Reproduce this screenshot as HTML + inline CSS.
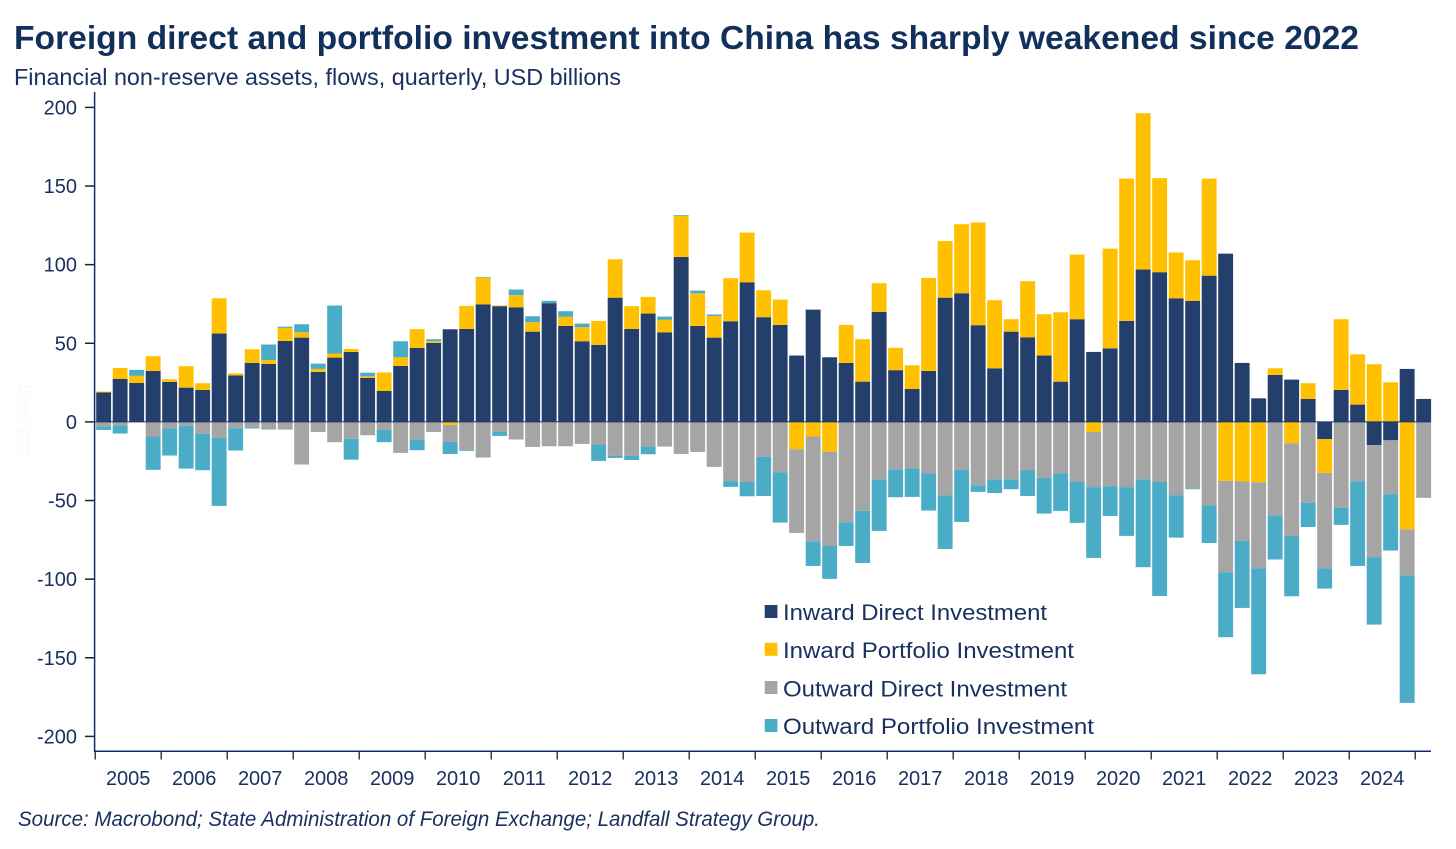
<!DOCTYPE html>
<html lang="en">
<head>
<meta charset="utf-8">
<title>Foreign direct and portfolio investment into China</title>
<style>
html,body{margin:0;padding:0;background:#fff;}
body{width:1456px;height:849px;overflow:hidden;}
svg{display:block;}
text{font-family:"Liberation Sans",sans-serif;fill:#1a3160;}
</style>
</head>
<body>
<svg id="chart" width="1456" height="849" viewBox="0 0 1456 849" xmlns="http://www.w3.org/2000/svg">
  <rect x="0" y="0" width="1456" height="849" fill="#ffffff"/>
  <text x="14" y="49" font-size="33" font-weight="700" style="fill:#12305c" textLength="1345" lengthAdjust="spacingAndGlyphs">Foreign direct and portfolio investment into China has sharply weakened since 2022</text>
  <text x="14" y="85" font-size="23.5" textLength="607" lengthAdjust="spacingAndGlyphs">Financial non-reserve assets, flows, quarterly, USD billions</text>
  <text x="0" y="0" font-size="20" transform="translate(29,458) rotate(-90)" style="fill:#f9f9f9" textLength="73" lengthAdjust="spacingAndGlyphs">USD, billion</text>
  <g id="bars"></g>
  <g id="axes"></g>
  <g>
    <g>
      <rect x="764.7" y="605" width="12.7" height="13" fill="#253f6d"/>
      <text x="783" y="620" font-size="22.5" textLength="264" lengthAdjust="spacingAndGlyphs">Inward Direct Investment</text>
    </g>
    <g>
      <rect x="764.7" y="642.8" width="12.7" height="13" fill="#ffc000"/>
      <text x="783" y="658" font-size="22.5" textLength="291" lengthAdjust="spacingAndGlyphs">Inward Portfolio Investment</text>
    </g>
    <g>
      <rect x="764.7" y="681" width="12.7" height="13" fill="#a5a5a5"/>
      <text x="783" y="696.4" font-size="22.5" textLength="284" lengthAdjust="spacingAndGlyphs">Outward Direct Investment</text>
    </g>
    <g>
      <rect x="764.7" y="719" width="12.7" height="13" fill="#4aacc6"/>
      <text x="783" y="734" font-size="22.5" textLength="311" lengthAdjust="spacingAndGlyphs">Outward Portfolio Investment</text>
    </g>
  </g>
  <text x="18" y="826" font-size="21" font-style="italic" textLength="802" lengthAdjust="spacingAndGlyphs">Source: Macrobond; State Administration of Foreign Exchange; Landfall Strategy Group.</text>
</svg>
<script>
const yearLabels = [2005,2006,2007,2008,2009,2010,2011,2012,2013,2014,2015,2016,2017,2018,2019,2020,2021,2022,2023,2024];
const yTickLabels = [200,150,100,50,0,-50,-100,-150,-200];
const inwardDirect = [18.7,27.3,24.8,32.4,25.4,21.8,20.3,56.2,29.5,37.5,36.9,51.5,53.6,31.8,40.9,44.5,28,19.7,35.6,47,
50.2,58.9,59.1,74.8,73.6,72.9,57.4,75.5,61,51.3,49,79,59.1,68.9,57,104.9,61,53.6,64,88.8,
66.6,61.7,42.2,71.4,41.1,37.5,25.6,70,32.9,21,32.4,79,81.8,61.5,34.1,57.4,53.8,42.2,25.6,65.3,
44.5,46.8,64.2,96.9,95.2,78.6,77,93,107,37.5,15,29.9,26.9,14.6,-11,20.3,11,-14.8,-11.7,33.7,14.6];
const inwardPortfolio = [0.6,7,4.5,9.4,1.7,13.6,4.3,22.4,1.4,8.7,2.5,8.3,3.4,1.9,2.6,1.9,1,11.7,5.5,12,
1.1,-1.9,14.7,17,0.4,7.7,6,-0.5,5.8,8.9,15.2,24.4,14.5,10.6,7.9,26.1,20.8,13.8,27.4,31.6,
17.1,16.1,-17.4,-9.3,-18.9,24.2,27,18.2,14.2,15,59.2,36,43.9,65.3,43.3,7.9,35.7,26.3,44.1,41.1,
-6.4,63.4,90.5,99.4,59.8,29.1,25.8,61.7,-37.5,-37.9,-38.4,4.2,-13.6,10,-21.4,45,32,36.7,25.2,-68.3,0];
const outwardDirect = [-2.8,-2.1,0,-9.3,-4,-2.5,-7.6,-10.2,-4,-3.6,-4.9,-4.9,-27.1,-6.4,-12.9,-10.8,-8.5,-5.1,-19.7,-11,
-6.4,-10.8,-17.8,-22.7,-6.4,-11.2,-15.9,-15,-15.5,-14,-14.4,-21.6,-21.6,-15.7,-15.7,-20.4,-19.1,-28.6,-37.7,-38.2,
-22.3,-32,-53.2,-66.6,-60,-63.8,-56.6,-36.5,-30.1,-29.5,-32.6,-46.6,-30.5,-40.3,-36.5,-36.5,-30.9,-35.6,-32.6,-38.2,
-35.1,-40.9,-41.5,-36.5,-38.2,-46.6,-42.4,-53,-58.1,-37.8,-54.7,-59.4,-58.9,-51.5,-60.7,-54.7,-37.7,-71.2,-34.3,-29.2,-48.3];
const outwardPortfolio = [-2.3,-5.3,3.8,-21.2,-17.4,-27.2,-23.1,-43.2,-14.2,-0.6,9.8,0.8,5.1,3.4,30.5,-13.2,2.3,-7.8,10.2,-7,
1.3,-7.7,-0.6,0.3,-2.5,3.6,3.8,1.5,3.6,2.3,-10.4,-1.3,-2.6,-4.9,2.1,0.5,1.7,0.9,-3.6,-9.1,
-24.8,-32,0,-15.7,-20.9,-15.1,-33.1,-32.8,-17.8,-18.2,-23.8,-34.2,-33.1,-4.2,-8.7,-6.3,-16.2,-22.7,-24,-26,
-45,-18.9,-31,-55.9,-72.5,-27,-0.4,-24,-41.3,-42.6,-67.4,-28.1,-38.4,-15.3,-12.9,-10.8,-53.9,-42.9,-35.8,-81.2,0];

const NS = 'http://www.w3.org/2000/svg';
const barsGroup = document.getElementById('bars');
const axesGroup = document.getElementById('axes');
const plotLeft = 96.2, quarterWidth = 16.5, barWidth = 14.9;
const zeroY = 421.9, pxPerUnit = 1.5725;
function xScale(i){ return plotLeft + quarterWidth * i; }
function yScale(v){ return zeroY - v * pxPerUnit; }

function makeLine(x1, y1, x2, y2, color, width){
  const l = document.createElementNS(NS, 'line');
  l.setAttribute('x1', x1);
  l.setAttribute('y1', y1);
  l.setAttribute('x2', x2);
  l.setAttribute('y2', y2);
  l.setAttribute('stroke', color);
  l.setAttribute('stroke-width', width);
  return l;
}
function makeText(x, y, anchor, content){
  const t = document.createElementNS(NS, 'text');
  t.setAttribute('x', x);
  t.setAttribute('y', y);
  t.setAttribute('text-anchor', anchor);
  t.setAttribute('font-size', '20');
  t.textContent = content;
  return t;
}

const seriesDefs = [
  {key:'inward-direct', values:inwardDirect, color:'#253f6d'},
  {key:'inward-portfolio', values:inwardPortfolio, color:'#ffc000'},
  {key:'outward-direct', values:outwardDirect, color:'#a5a5a5'},
  {key:'outward-portfolio', values:outwardPortfolio, color:'#4aacc6'}
];

for (let i = 0; i < inwardDirect.length; i++) {
  let pos = 0, neg = 0;
  for (const s of seriesDefs) {
    const v = s.values[i];
    if (!v) continue;
    const start = v > 0 ? pos : neg;
    const end = start + v;
    if (v > 0) pos = end; else neg = end;
    const top = yScale(Math.max(start, end));
    const bottom = yScale(Math.min(start, end));
    const r = document.createElementNS(NS, 'rect');
    r.setAttribute('x', xScale(i));
    r.setAttribute('y', top);
    r.setAttribute('width', barWidth);
    r.setAttribute('height', bottom - top);
    r.setAttribute('fill', s.color);
    
    
    barsGroup.appendChild(r);
  }
}

const zeroLine = makeLine(95, zeroY, 1431, zeroY, '#1f3864', 1);


axesGroup.appendChild(zeroLine);

const yAxisLine = makeLine(94.6, 92, 94.6, 752, '#14286a', 1.5);


axesGroup.appendChild(yAxisLine);

const xAxisLine = makeLine(94, 751.3, 1431, 751.3, '#14286a', 1.5);


axesGroup.appendChild(xAxisLine);

yTickLabels.forEach(function(v){
  const y = yScale(v);
  const tick = makeLine(85, y, 94, y, '#222222', 1.5);
  
  
  axesGroup.appendChild(tick);
  const label = makeText(77, y + 7, 'end', String(v));
  
  
  axesGroup.appendChild(label);
});

yearLabels.forEach(function(year, k){
  const x = xScale(k * 4) - 1;
  const tick = makeLine(x, 751, x, 759.5, '#222222', 1.3);
  
  
  axesGroup.appendChild(tick);
  const label = makeText(x + 33, 785, 'middle', String(year));
  
  
  axesGroup.appendChild(label);
});
const lastTick = makeLine(xScale(yearLabels.length * 4) - 1, 751, xScale(yearLabels.length * 4) - 1, 759.5, '#222222', 1.3);


axesGroup.appendChild(lastTick);
</script>
</body>
</html>
